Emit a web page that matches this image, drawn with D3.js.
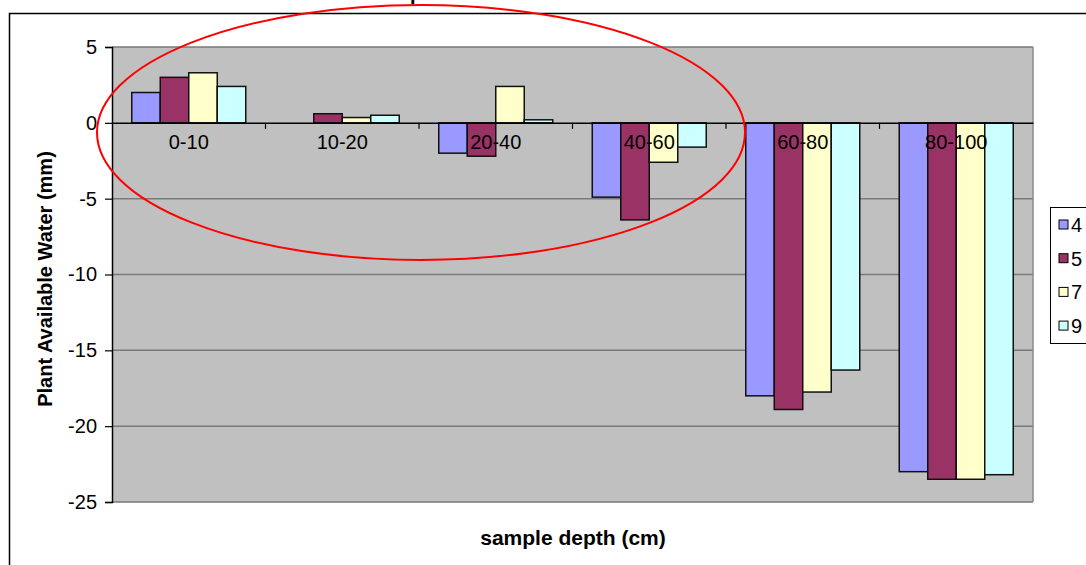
<!DOCTYPE html>
<html>
<head>
<meta charset="utf-8">
<script src="https://cdn.jsdelivr.net/npm/d3@7"></script>
<style>
  body { margin: 0; background: #fff; overflow: hidden; }
  text { font-family: "Liberation Sans", Arial, sans-serif; }
</style>
</head>
<body>
<div class="chart-box"></div>
<script>
/* Declare data */
const categories = ["0-10", "10-20", "20-40", "40-60", "60-80", "80-100"];
const seriesNames = ["4", "5", "7", "9"];
const seriesColors = ["#9999FF", "#993366", "#FFFFCC", "#CCFFFF"];
const s4 = [2.0, 0, -2.0, -4.9, -18.0, -23.0];
const s5 = [3.0, 0.6, -2.2, -6.4, -18.9, -23.5];
const s7 = [3.3, 0.35, 2.4, -2.6, -17.75, -23.5];
const s9 = [2.4, 0.5, 0.2, -1.6, -16.3, -23.2];
const yTicks = [5, 0, -5, -10, -15, -20, -25];

const width = 1086, height = 565;

let svg = d3.select(".chart-box")
  .append("svg")
  .attr("width", width)
  .attr("height", height);

/* chart area border (runs off the page on right and bottom) */
svg.append("rect")
  .attr("x", 9.5).attr("y", 13.5)
  .attr("width", 1300).attr("height", 700)
  .attr("fill", "#fff")
  .attr("stroke", "#000")
  .attr("stroke-width", 1.5);

/* Title - only a descender shows above the frame, like the original */
let title = svg.append("text")
  .attr("y", 0)
  .attr("font-size", 20)
  .attr("font-weight", "bold")
  .text("Soil water depletion");
let pIdx = title.text().indexOf("p");
let pOff = title.node().getSubStringLength(0, pIdx);
title.attr("x", 410 - pOff);

/* Scales */
let x0 = d3.scaleBand().domain(categories).range([112, 1033]);
let x1 = d3.scaleBand().domain(seriesNames)
  .range([x0.bandwidth() * 0.1287, x0.bandwidth() * 0.8713]);
let y = d3.scaleLinear().domain([-25, 5]).range([502, 47]);

/* Plot area */
svg.append("rect")
  .attr("x", 112).attr("y", y(5))
  .attr("width", 1033 - 112).attr("height", y(-25) - y(5))
  .attr("fill", "#C0C0C0");

svg.append("g")
  .selectAll("line")
  .data(yTicks.filter(d => d !== 0))
  .enter()
  .append("line")
  .attr("x1", 112).attr("x2", 1033)
  .attr("y1", d => y(d)).attr("y2", d => y(d))
  .attr("stroke", "#7a7a7a")
  .attr("stroke-width", 1.5);

svg.append("line")
  .attr("x1", 1033).attr("x2", 1033)
  .attr("y1", y(5)).attr("y2", y(-25))
  .attr("stroke", "#8a8a8a")
  .attr("stroke-width", 1.5);

/* Bars */
const allSeries = [s4, s5, s7, s9];
let rows = [];
allSeries.forEach((vals, si) => {
  vals.forEach((v, ci) => rows.push({ cat: categories[ci], s: seriesNames[si], color: seriesColors[si], v: v }));
});

svg.append("g")
  .selectAll("rect")
  .data(rows.filter(d => d.v !== 0))
  .enter()
  .append("rect")
  .attr("x", d => x0(d.cat) + x1(d.s))
  .attr("y", d => y(Math.max(0, d.v)))
  .attr("width", x1.bandwidth())
  .attr("height", d => Math.abs(y(d.v) - y(0)))
  .attr("fill", d => d.color)
  .attr("stroke", "#111")
  .attr("stroke-width", 1.5);

/* Y axis */
let yAxis = svg.append("g")
  .attr("transform", "translate(112,0)")
  .call(d3.axisLeft(y).tickValues(yTicks).tickSize(7).tickPadding(8).tickFormat(d => String(d)));
yAxis.select(".domain").attr("stroke", "#000").attr("stroke-width", 1.5);
yAxis.selectAll(".tick line").attr("stroke", "#000").attr("stroke-width", 1.2);
yAxis.selectAll("text")
  .attr("font-size", 20)
  .attr("font-family", "Liberation Sans, Arial, sans-serif")
  .attr("fill", "#000");

/* X axis at zero */
let xAxis = svg.append("g")
  .attr("transform", `translate(0,${y(0)})`)
  .call(d3.axisBottom(x0).tickSize(0).tickPadding(12));
xAxis.select(".domain").attr("stroke", "#000").attr("stroke-width", 1.5);
xAxis.selectAll("text")
  .attr("font-size", 20)
  .attr("font-family", "Liberation Sans, Arial, sans-serif")
  .attr("fill", "#000");

svg.append("g")
  .selectAll("line")
  .data(categories.slice(1))
  .enter()
  .append("line")
  .attr("x1", d => x0(d)).attr("x2", d => x0(d))
  .attr("y1", y(0)).attr("y2", y(0) + 6)
  .attr("stroke", "#000")
  .attr("stroke-width", 1.2);

/* Axis titles */
svg.append("text")
  .attr("x", 573).attr("y", 545)
  .attr("text-anchor", "middle")
  .attr("font-size", 21)
  .attr("font-weight", "bold")
  .text("sample depth (cm)");

svg.append("text")
  .attr("transform", "translate(52,279) rotate(-90)")
  .attr("text-anchor", "middle")
  .attr("font-size", 20)
  .attr("font-weight", "bold")
  .text("Plant Available Water (mm)");

/* Legend (cut off at right edge) */
let legend = svg.append("g");
legend.append("rect")
  .attr("x", 1050.5).attr("y", 207.5)
  .attr("width", 120).attr("height", 136)
  .attr("fill", "#fff")
  .attr("stroke", "#000")
  .attr("stroke-width", 1);

let items = legend.selectAll("g.item")
  .data(seriesNames)
  .enter()
  .append("g")
  .attr("transform", (d, i) => `translate(1059,${225 + i * 33.7})`);
items.append("rect")
  .attr("x", 0).attr("y", -5)
  .attr("width", 9).attr("height", 9)
  .attr("fill", (d, i) => seriesColors[i])
  .attr("stroke", "#000")
  .attr("stroke-width", 1);
items.append("text")
  .attr("x", 12).attr("y", 7)
  .attr("font-size", 20)
  .text(d => d);

/* Red ellipse annotation */
svg.append("ellipse")
  .attr("cx", 421).attr("cy", 132.5)
  .attr("rx", 324).attr("ry", 127.5)
  .attr("fill", "none")
  .attr("stroke", "#FF0000")
  .attr("stroke-width", 2);
</script>
</body>
</html>
